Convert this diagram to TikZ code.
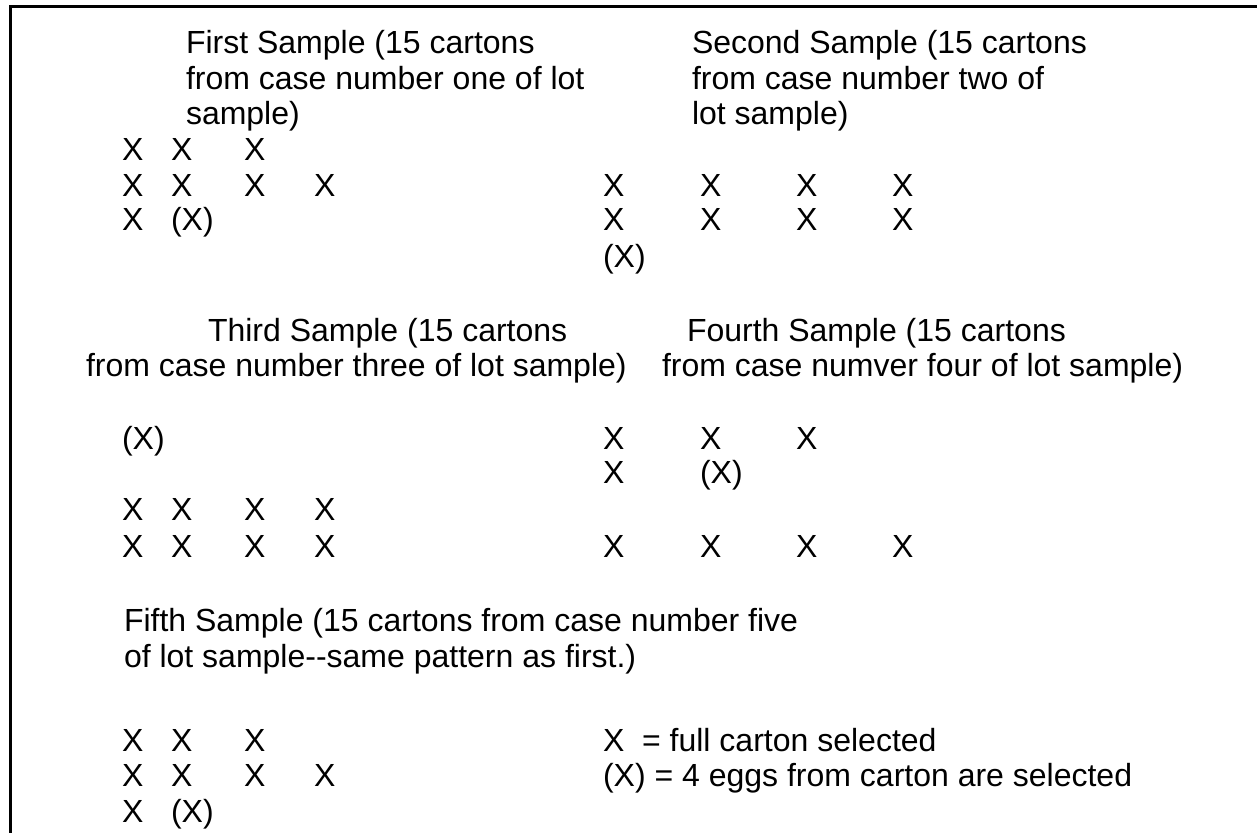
\documentclass[tikz,border=0pt]{standalone}
\usepackage{fontspec}
\setmainfont{Liberation Sans}
\usetikzlibrary{positioning}

\begin{document}
\begin{tikzpicture}[
  x=0.5pt, y=-0.5pt,
  font=\fontsize{16}{18}\selectfont,
  % Styles
  txt/.style={anchor=base west, inner sep=0pt, outer sep=0pt},
  carton/.style={txt},
  boxline/.style={draw, line width=1.5pt, line join=miter},
  ]
\useasboundingbox (0,0) rectangle (1257,833);

% Open frame (left and top only)
\draw[boxline] (10,833) -- (10,6.5) -- (1257,6.5);

%--- First sample ---------------------------------------------------
\node[txt] (t1a) at (186,54)  {First Sample (15 cartons};
\node[txt] (t1b) at (186,90)  {from case number one of lot};
\node[txt] (t1c) at (186,125) {sample)};

\foreach \c [count=\i] in {122,171,244}
  \node[carton] (s1a\i) at (\c,161) {X};
\foreach \c [count=\i] in {122,171,244,314}
  \node[carton] (s1b\i) at (\c,197) {X};
\node[carton] (s1c1) at (122,231) {X};
\node[carton] (s1c2) at (171,231) {(X)};

%--- Second sample --------------------------------------------------
\node[txt] (t2a) at (692,54)  {Second Sample (15 cartons};
\node[txt] (t2b) at (692,90)  {from case number two of};
\node[txt] (t2c) at (692,125) {lot sample)};

\foreach \c [count=\i] in {603,700,796,892} {
  \node[carton] (s2a\i) at (\c,197) {X};
  \node[carton] (s2b\i) at (\c,231) {X};
}
\node[carton] (s2c1) at (603,268) {(X)};

%--- Third sample ---------------------------------------------------
\node[txt] (t3a) at (208,342) {Third Sample (15 cartons};
\node[txt] (t3b) at (86,377)  {from case number three of lot sample)};

\node[carton] (s3a1) at (122,450) {(X)};
\foreach \c [count=\i] in {122,171,244,314} {
  \node[carton] (s3b\i) at (\c,520) {X};
  \node[carton] (s3c\i) at (\c,557) {X};
}

%--- Fourth sample --------------------------------------------------
\node[txt] (t4a) at (687,342) {Fourth Sample (15 cartons};
\node[txt] (t4b) at (662,377) {from case numver four of lot sample)};

\foreach \c [count=\i] in {603,700,796}
  \node[carton] (s4a\i) at (\c,450) {X};
\node[carton] (s4b1) at (603,484) {X};
\node[carton] (s4b2) at (700,484) {(X)};
\foreach \c [count=\i] in {603,700,796,892}
  \node[carton] (s4c\i) at (\c,557) {X};

%--- Fifth sample ---------------------------------------------------
\node[txt] (t5a) at (124,631) {Fifth Sample (15 cartons from case number five};
\node[txt] (t5b) at (124,667) {of lot sample-{}-same pattern as first.)};

\foreach \c [count=\i] in {122,171,244}
  \node[carton] (s5a\i) at (\c,751) {X};
\foreach \c [count=\i] in {122,171,244,314}
  \node[carton] (s5b\i) at (\c,786) {X};
\node[carton] (s5c1) at (122,822) {X};
\node[carton] (s5c2) at (171,822) {(X)};

%--- Legend ---------------------------------------------------------
\node[txt] (key1) at (603,751) {X\ \ = full carton selected};
\node[txt] (key2) at (603,786) {(X) = 4 eggs from carton are selected};

\end{tikzpicture}
\end{document}
